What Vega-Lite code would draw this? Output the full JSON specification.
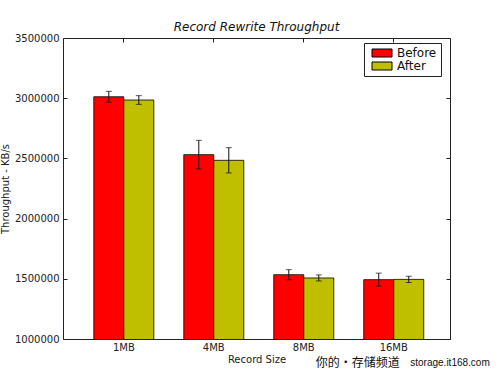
{
  "$schema": "https://vega.github.io/schema/vega-lite/v6.json",
  "width": 387,
  "height": 301,
  "autosize": {"type": "none"},
  "padding": {"left": 63, "top": 38, "right": 50, "bottom": 38},
  "background": "white",
  "title": {
    "text": "Record Rewrite Throughput",
    "font": "DejaVu Sans",
    "fontStyle": "italic",
    "fontWeight": "normal",
    "fontSize": 12,
    "anchor": "middle",
    "frame": "group",
    "offset": -10,
    "color": "#111",
    "baseline": "alphabetic"
  },
  "config": {
    "view": {"stroke": "#222", "strokeWidth": 1},
    "font": "DejaVu Sans",
    "axis": {
      "domain": false,
      "grid": false,
      "tickSize": -4,
      "tickColor": "#222",
      "labelFont": "DejaVu Sans",
      "labelFontSize": 10,
      "labelColor": "#222",
      "titleFont": "DejaVu Sans",
      "titleFontSize": 10,
      "titleFontWeight": "normal",
      "titleColor": "#222"
    },
    "legend": {
      "orient": "none",
      "legendX": 301,
      "legendY": 5,
      "labelFont": "DejaVu Sans",
      "labelFontSize": 12,
      "labelColor": "#111",
      "symbolType": "M-2.5,-1H2.5V1H-2.5Z",
      "symbolSize": 64,
      "symbolStrokeColor": "black",
      "symbolStrokeWidth": 1,
      "strokeColor": "#222",
      "fillColor": "white",
      "padding": 4,
      "rowPadding": 1,
      "labelOffset": 9,
      "symbolOffset": 8
    }
  },
  "data": {
    "values": [
      {"size": "1MB", "run": "Before", "value": 3012000, "low": 2967000, "high": 3057000},
      {"size": "1MB", "run": "After", "value": 2985000, "low": 2949000, "high": 3021000},
      {"size": "4MB", "run": "Before", "value": 2531000, "low": 2412000, "high": 2650000},
      {"size": "4MB", "run": "After", "value": 2484000, "low": 2379000, "high": 2589000},
      {"size": "8MB", "run": "Before", "value": 1534000, "low": 1492000, "high": 1576000},
      {"size": "8MB", "run": "After", "value": 1507000, "low": 1482000, "high": 1532000},
      {"size": "16MB", "run": "Before", "value": 1493000, "low": 1439000, "high": 1547000},
      {"size": "16MB", "run": "After", "value": 1495000, "low": 1469000, "high": 1521000}
    ]
  },
  "layer": [
    {
      "mark": {"type": "bar", "stroke": "black", "strokeWidth": 0.8, "clip": true},
      "encoding": {
        "x": {
          "field": "size", "type": "nominal", "sort": null,
          "scale": {"domain": ["1MB", "4MB", "8MB", "16MB"], "paddingInner": 0.333, "paddingOuter": 0.317, "align": 0.54},
          "axis": {"title": "Record Size", "labelAngle": 0, "labelPadding": 7, "titlePadding": 2, "orient": "bottom"}
        },
        "xOffset": {
          "field": "run", "type": "nominal", "sort": null,
          "scale": {"domain": ["Before", "After"], "paddingInner": 0, "paddingOuter": 0}
        },
        "y": {
          "field": "value", "type": "quantitative",
          "scale": {"domain": [1000000, 3500000], "nice": false, "zero": false},
          "axis": {"title": "Throughput - KB/s", "values": [1000000, 1500000, 2000000, 2500000, 3000000, 3500000], "format": "d", "labelPadding": 8, "titlePadding": 4, "orient": "left"}
        },
        "color": {
          "field": "run", "type": "nominal", "sort": null,
          "scale": {"domain": ["Before", "After"], "range": ["#ff0000", "#bfbf00"]},
          "legend": {"title": null}
        }
      }
    },
    {
      "mark": {"type": "rule", "color": "#111", "strokeWidth": 1},
      "encoding": {
        "x": {"field": "size", "type": "nominal", "sort": null, "axis": {"orient": "top", "labels": false, "title": null}},
        "xOffset": {"field": "run", "type": "nominal", "sort": null},
        "y": {"field": "low", "type": "quantitative", "axis": {"orient": "right", "labels": false, "title": null, "values": [1000000, 1500000, 2000000, 2500000, 3000000, 3500000]}},
        "y2": {"field": "high"}
      }
    },
    {
      "mark": {"type": "tick", "orient": "horizontal", "color": "#111", "size": 6, "thickness": 1},
      "encoding": {
        "x": {"field": "size", "type": "nominal", "sort": null, "axis": null},
        "xOffset": {"field": "run", "type": "nominal", "sort": null},
        "y": {"field": "low", "type": "quantitative", "axis": null}
      }
    },
    {
      "mark": {"type": "tick", "orient": "horizontal", "color": "#111", "size": 6, "thickness": 1},
      "encoding": {
        "x": {"field": "size", "type": "nominal", "sort": null, "axis": null},
        "xOffset": {"field": "run", "type": "nominal", "sort": null},
        "y": {"field": "high", "type": "quantitative", "axis": null}
      }
    },
    {
      "data": {"values": [{"site": "storage.it168.com", "channel": "你的・存储频道"}]},
      "layer": [
        {
          "mark": {"type": "text", "align": "right", "baseline": "middle", "dx": 66, "fontSize": 10, "font": "Liberation Sans", "color": "#111"},
          "encoding": {
            "text": {"field": "site"},
            "x": {"datum": "16MB", "bandPosition": 1, "axis": null},
            "y": {"datum": 800000, "type": "quantitative", "axis": null}
          }
        },
        {
          "mark": {"type": "text", "align": "right", "baseline": "middle", "dx": -24, "fontSize": 12, "font": "Noto Sans CJK SC", "color": "#111"},
          "encoding": {
            "text": {"field": "channel"},
            "x": {"datum": "16MB", "bandPosition": 1, "axis": null},
            "y": {"datum": 800000, "type": "quantitative", "axis": null}
          }
        }
      ]
    }
  ],
  "resolve": {"axis": {"x": "independent", "y": "independent"}}
}
